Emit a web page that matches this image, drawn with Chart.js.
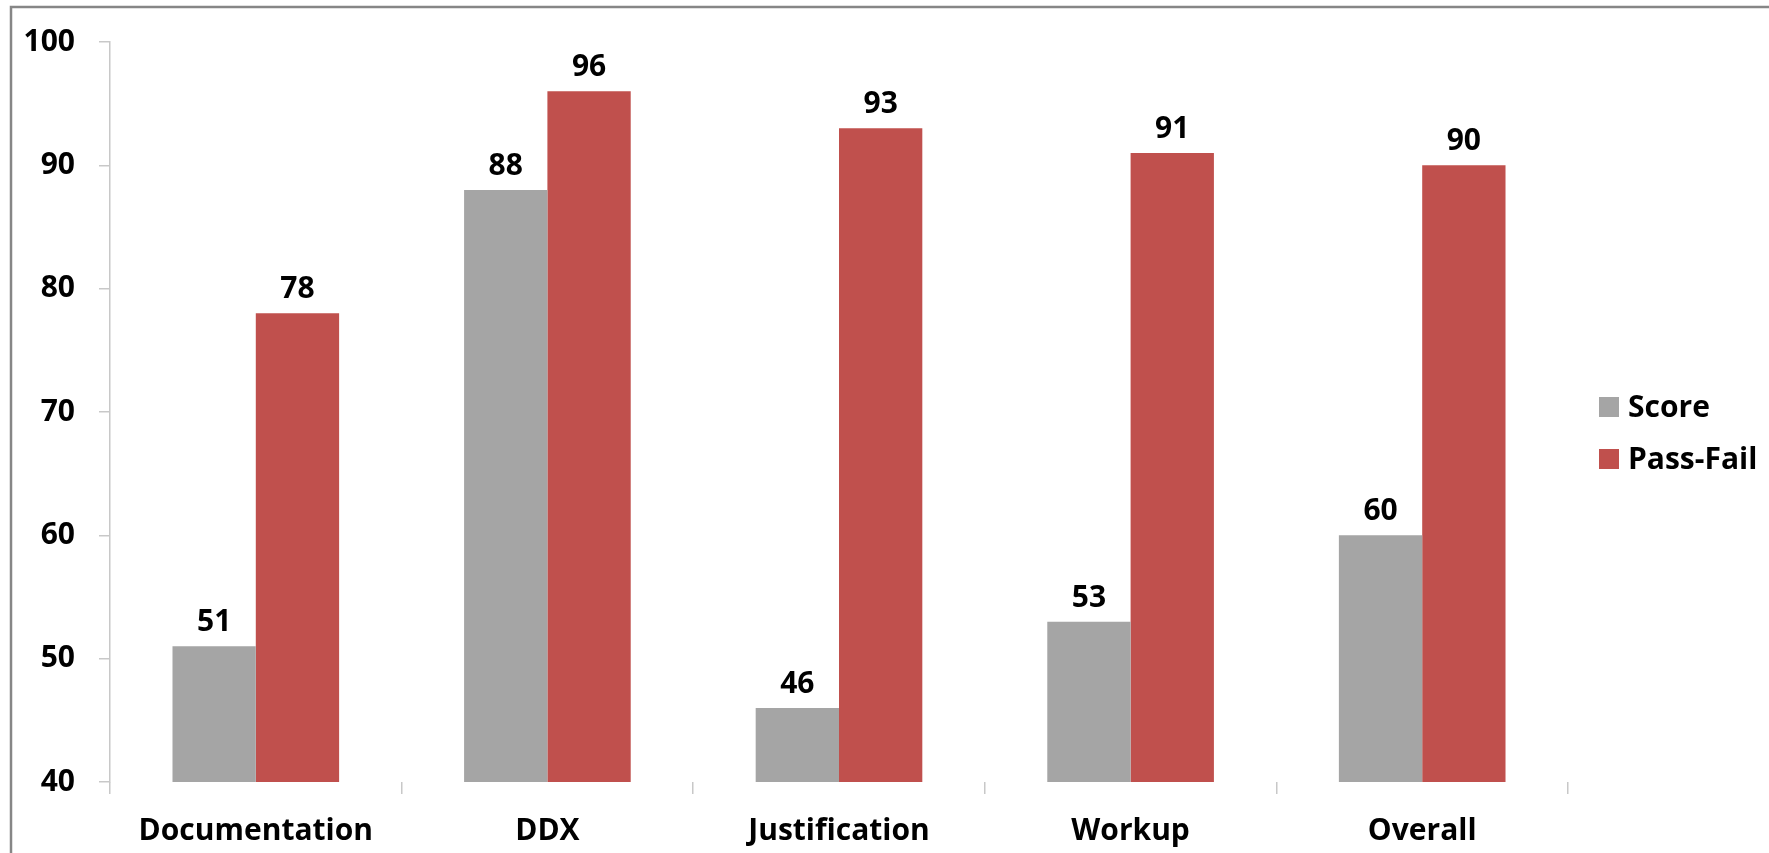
<!DOCTYPE html>
<html>
<head>
<meta charset="utf-8">
<style>
  html, body { margin: 0; padding: 0; background: #ffffff; }
  #wrap { width: 1769px; height: 853px; position: relative; }
</style>
<script src="https://cdn.jsdelivr.net/npm/chart.js@4.4.1/dist/chart.umd.min.js"></script>
</head>
<body>
<div id="wrap"><canvas id="c" width="1769" height="853"></canvas></div>
<script>
const categories = ['Documentation', 'DDX', 'Justification', 'Workup', 'Overall'];
const scoreValues = [51, 88, 46, 53, 60];
const passFailValues = [78, 96, 93, 91, 90];
const seriesNames = ['Score', 'Pass-Fail'];
const yTicks = [40, 50, 60, 70, 80, 90, 100];

const FONT = '"Open Sans", Lato, sans-serif';
const GRAY = '#A5A5A5';
const RED = '#C0504D';

// Frame lines, value labels above bars, and the side legend
const decorations = {
  id: 'decorations',
  beforeDraw(chart) {
    const ctx = chart.ctx;
    ctx.save();
    ctx.fillStyle = '#ffffff';
    ctx.fillRect(0, 0, chart.width, chart.height);
    ctx.strokeStyle = '#868686';
    ctx.lineWidth = 2.5;
    ctx.beginPath();
    ctx.moveTo(11, chart.height);
    ctx.lineTo(11, 7);
    ctx.lineTo(chart.width, 7);
    ctx.stroke();
    ctx.restore();
  },
  afterDatasetsDraw(chart) {
    const ctx = chart.ctx;
    ctx.save();
    ctx.font = 'bold 30px ' + FONT;
    ctx.fillStyle = '#000000';
    ctx.textAlign = 'center';
    ctx.textBaseline = 'alphabetic';
    chart.data.datasets.forEach((ds, i) => {
      chart.getDatasetMeta(i).data.forEach((bar, j) => {
        ctx.fillText(String(ds.data[j]), bar.x, bar.y - 15);
      });
    });
    // legend
    const items = chart.data.datasets;
    const lx = 1599, ly0 = 407, step = 52;
    ctx.textAlign = 'left';
    ctx.textBaseline = 'middle';
    items.forEach((ds, i) => {
      const cy = ly0 + i * step;
      ctx.fillStyle = ds.backgroundColor;
      ctx.fillRect(lx, cy - 10, 20, 20);
      ctx.fillStyle = '#000000';
      ctx.fillText(ds.label, lx + 29, cy + 1);
    });
    ctx.restore();
  }
};

new Chart(document.getElementById('c'), {
  type: 'bar',
  data: {
    labels: categories,
    datasets: [
      { label: seriesNames[0], data: scoreValues, backgroundColor: GRAY },
      { label: seriesNames[1], data: passFailValues, backgroundColor: RED }
    ]
  },
  options: {
    responsive: false,
    animation: false,
    devicePixelRatio: 1,
    layout: { padding: { left: 0, top: 36, right: 201, bottom: 0 } },
    datasets: { bar: { categoryPercentage: 2 / 3.5, barPercentage: 1.0 } },
    plugins: { legend: { display: false }, tooltip: { enabled: false } },
    scales: {
      x: {
        grid: { offset: true, drawOnChartArea: false, tickLength: 12, color: '#c8c8c8', lineWidth: 1.5 },
        border: { display: false },
        ticks: { font: { family: FONT, size: 30, weight: 'bold' }, color: '#000000', padding: 19, maxRotation: 0 },
        afterFit(scale) { scale.height = 71; }
      },
      y: {
        min: 40, max: 100,
        afterBuildTicks(scale) { scale.ticks = yTicks.map(v => ({ value: v })); },
        grid: { drawOnChartArea: false, tickLength: 11, color: '#c8c8c8', lineWidth: 1.5 },
        border: { display: true, color: '#c8c8c8', width: 1.5 },
        ticks: { font: { family: FONT, size: 30, weight: 'bold' }, color: '#000000', padding: 24 },
        afterFit(scale) { scale.width = 110; }
      }
    }
  },
  plugins: [decorations]
});
</script>
</body>
</html>
